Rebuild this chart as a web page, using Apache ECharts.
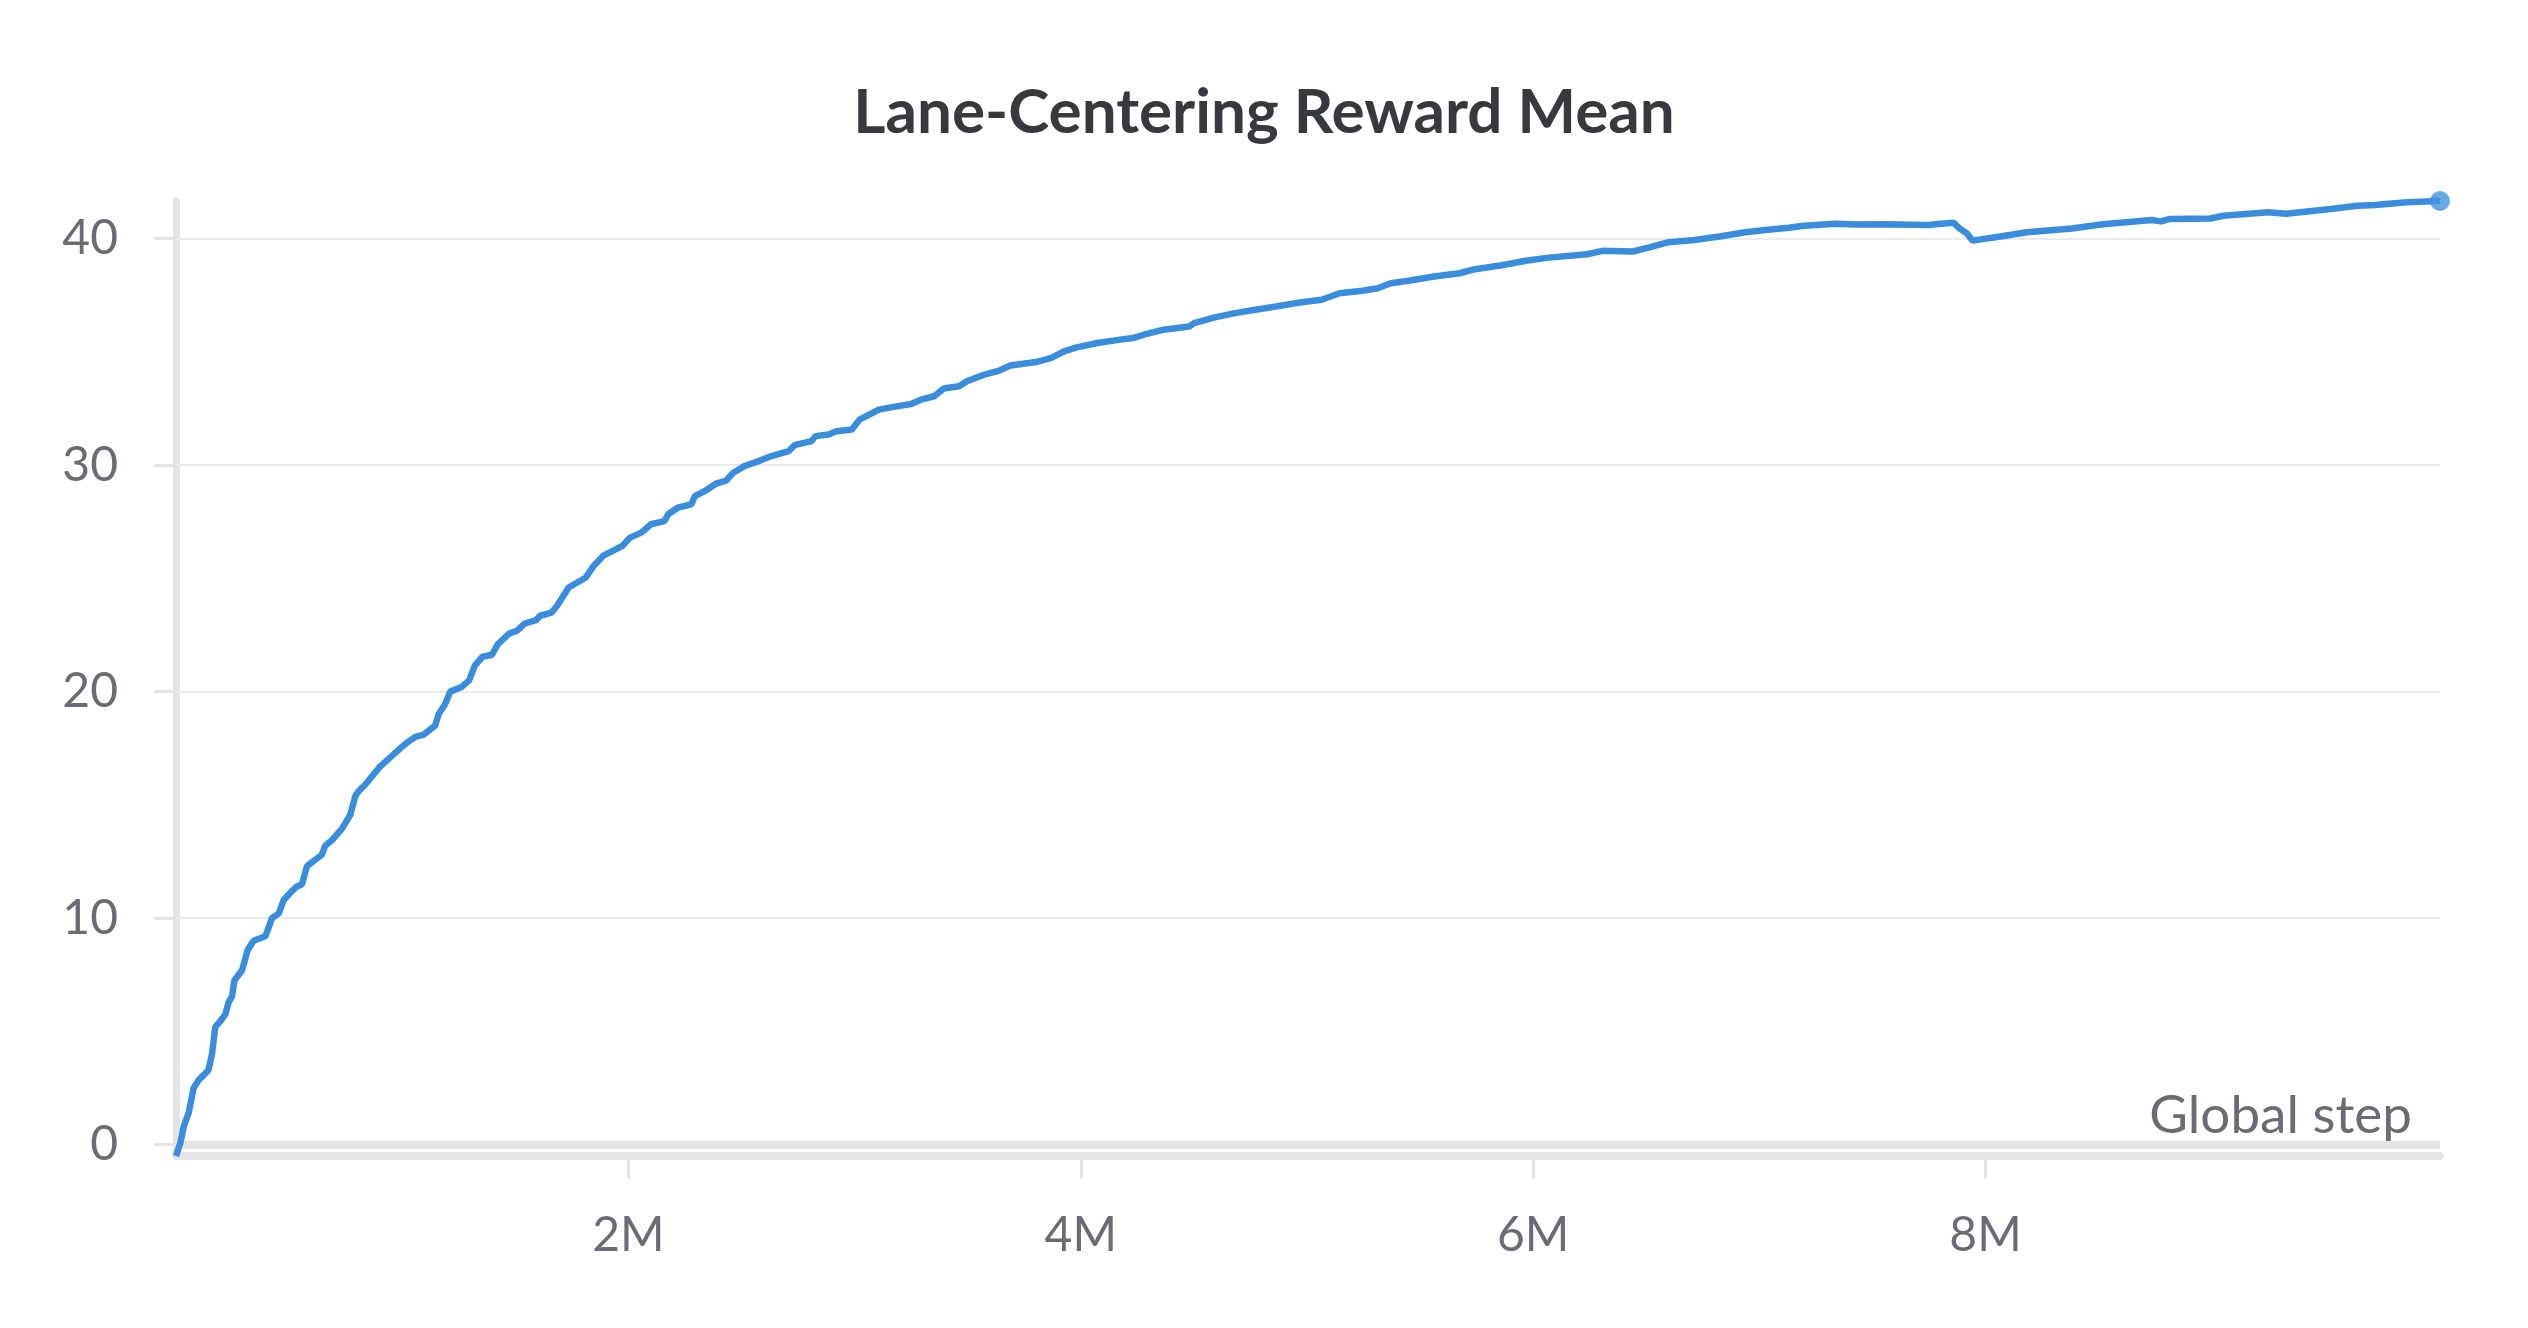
<!DOCTYPE html>
<html>
<head>
<meta charset="utf-8">
<script src="https://cdn.jsdelivr.net/npm/echarts@6/dist/echarts.min.js"></script>
<style>
html,body{margin:0;padding:0;background:#ffffff;}
#chart{width:2528px;height:1328px;}
</style>
</head>
<body>
<div id="chart"></div>
<script>
// ---- data ----
const chartTitle = 'Lane-Centering Reward Mean';
const xAxisName = 'Global step';
const stepsM = [
  0, 0.02, 0.034, 0.056, 0.07, 0.078, 0.10, 0.144, 0.159, 0.174, 0.196, 0.218, 0.233, 0.248, 0.258,
  0.292, 0.317, 0.343, 0.395, 0.41, 0.424, 0.454, 0.476, 0.513, 0.535, 0.557, 0.579, 0.645, 0.66,
  0.69, 0.734, 0.77, 0.793, 0.807, 0.837, 0.903, 0.947, 0.992, 1.021, 1.058, 1.095, 1.146, 1.161,
  1.19, 1.212, 1.262, 1.296, 1.321, 1.355, 1.397, 1.423, 1.474, 1.508, 1.541, 1.592, 1.609, 1.66,
  1.685, 1.736, 1.812, 1.846, 1.888, 1.973, 2.007, 2.057, 2.1, 2.159, 2.176, 2.218, 2.278, 2.294,
  2.337, 2.387, 2.43, 2.464, 2.514, 2.582, 2.633, 2.709, 2.734, 2.81, 2.827, 2.886, 2.92, 2.988,
  3.022, 3.107, 3.166, 3.25, 3.293, 3.352, 3.394, 3.462, 3.496, 3.563, 3.639, 3.689, 3.802, 3.87,
  3.926, 3.982, 4.073, 4.174, 4.231, 4.287, 4.366, 4.479, 4.501, 4.592, 4.682, 4.772, 4.862, 4.975,
  5.065, 5.144, 5.245, 5.313, 5.37, 5.449, 5.562, 5.674, 5.742, 5.855, 5.967, 6.069, 6.238, 6.306,
  6.441, 6.509, 6.599, 6.712, 6.824, 6.937, 7.027, 7.129, 7.197, 7.335, 7.433, 7.552, 7.749, 7.789,
  7.858, 7.887, 7.917, 7.943, 8.065, 8.183, 8.381, 8.519, 8.736, 8.776, 8.815, 8.993, 9.052, 9.25,
  9.328, 9.526, 9.644, 9.723, 9.861, 10.009
];
const rewardMean = [
  -0.5, 0.1, 0.8, 1.4, 2.1, 2.5, 2.85, 3.3, 4.0, 5.2, 5.45, 5.75, 6.3, 6.55, 7.25,
  7.7, 8.6, 9.0, 9.2, 9.6, 10.0, 10.2, 10.8, 11.2, 11.4, 11.5, 12.3, 12.8, 13.2,
  13.45, 13.95, 14.55, 15.4, 15.6, 15.9, 16.7, 17.1, 17.5, 17.75, 18.0, 18.1, 18.5, 19.0,
  19.45, 20.0, 20.2, 20.5, 21.15, 21.54, 21.63, 22.1, 22.57, 22.69, 23.0, 23.16, 23.35, 23.49,
  23.79, 24.6, 25.04, 25.55, 25.99, 26.43, 26.8, 27.02, 27.39, 27.53, 27.83, 28.12, 28.27, 28.63,
  28.85, 29.18, 29.3, 29.66, 29.96, 30.2, 30.4, 30.62, 30.88, 31.06, 31.28, 31.35, 31.5, 31.57,
  32.01, 32.45, 32.56, 32.7, 32.89, 33.04, 33.38, 33.48, 33.7, 33.96, 34.17, 34.4, 34.55, 34.73,
  35.02, 35.2, 35.39, 35.54, 35.61, 35.78, 35.98, 36.12, 36.27, 36.52, 36.71, 36.86, 37.0, 37.19,
  37.3, 37.59, 37.7, 37.81, 38.03, 38.14, 38.33, 38.47, 38.65, 38.81, 39.02, 39.16, 39.31, 39.46,
  39.43, 39.6, 39.84, 39.94, 40.09, 40.28, 40.38, 40.48, 40.57, 40.66, 40.62, 40.63, 40.6, 40.64,
  40.7, 40.43, 40.24, 39.91, 40.09, 40.28, 40.45, 40.63, 40.82, 40.76, 40.87, 40.89, 41.01, 41.16,
  41.1, 41.31, 41.45, 41.48, 41.6, 41.66
];
const yTickValues = [0, 10, 20, 30, 40];
const xTickValues = [2, 4, 6, 8];
const xTickSuffix = 'M';

// ---- build chart ----
const lineData = stepsM.map((s, i) => [s, rewardMean[i]]);
const lastPoint = lineData[lineData.length - 1];

const FONT = 'Lato, "Noto Sans", sans-serif';
const LABEL_COLOR = '#6b6b76';
const AXIS_COLOR = '#e4e4e7';
const GRID_COLOR = '#ebebee';
const LINE_COLOR = '#3a8ddc';

const chart = echarts.init(document.getElementById('chart'), null, {renderer: 'canvas'});
chart.setOption({
  animation: false,
  backgroundColor: '#ffffff',
  title: {
    text: chartTitle,
    left: 'center',
    top: 82,
    padding: 0,
    textStyle: {fontFamily: FONT, fontWeight: 'bold', fontSize: 62, color: '#36393d'}
  },
  grid: {left: 176, right: 88, top: 201, bottom: 172, containLabel: false},
  xAxis: {
    type: 'value',
    min: 0,
    max: 'dataMax',
    name: xAxisName,
    nameLocation: 'end',
    nameGap: -28,
    nameTextStyle: {fontFamily: FONT, fontSize: 53, color: LABEL_COLOR, align: 'right', verticalAlign: 'bottom', padding: [0, 0, 14, 0]},
    axisLine: {show: true, onZero: false, lineStyle: {color: AXIS_COLOR, width: 8}},
    axisTick: {show: true, customValues: xTickValues, length: 23, lineStyle: {color: AXIS_COLOR, width: 3}},
    axisLabel: {customValues: xTickValues, formatter: v => v + xTickSuffix, margin: 56, fontFamily: FONT, fontSize: 48, color: LABEL_COLOR},
    splitLine: {show: false}
  },
  yAxis: {
    type: 'value',
    min: 'dataMin',
    max: 'dataMax',
    axisLine: {show: true, lineStyle: {color: AXIS_COLOR, width: 7}},
    axisTick: {show: true, customValues: yTickValues, length: 22, lineStyle: {color: AXIS_COLOR, width: 3}},
    axisLabel: {customValues: yTickValues, margin: 58, fontFamily: FONT, fontSize: 48, color: LABEL_COLOR},
    splitLine: {show: false}
  },
  series: [
    {
      type: 'line',
      data: lineData,
      showSymbol: false,
      symbol: 'none',
      z: 3,
      lineStyle: {color: LINE_COLOR, width: 6.5},
      markLine: {
        silent: true,
        z: 1,
        symbol: ['none', 'none'],
        label: {show: false},
        animation: false,
        data: yTickValues.map(v => ({
          yAxis: v,
          lineStyle: {color: v === 0 ? AXIS_COLOR : GRID_COLOR, width: v === 0 ? 8 : 2, type: 'solid'}
        }))
      }
    },
    {
      type: 'scatter',
      data: [lastPoint],
      symbol: 'circle',
      symbolSize: 20,
      z: 4,
      itemStyle: {color: '#4294df'}
    }
  ]
});
</script>
</body>
</html>
